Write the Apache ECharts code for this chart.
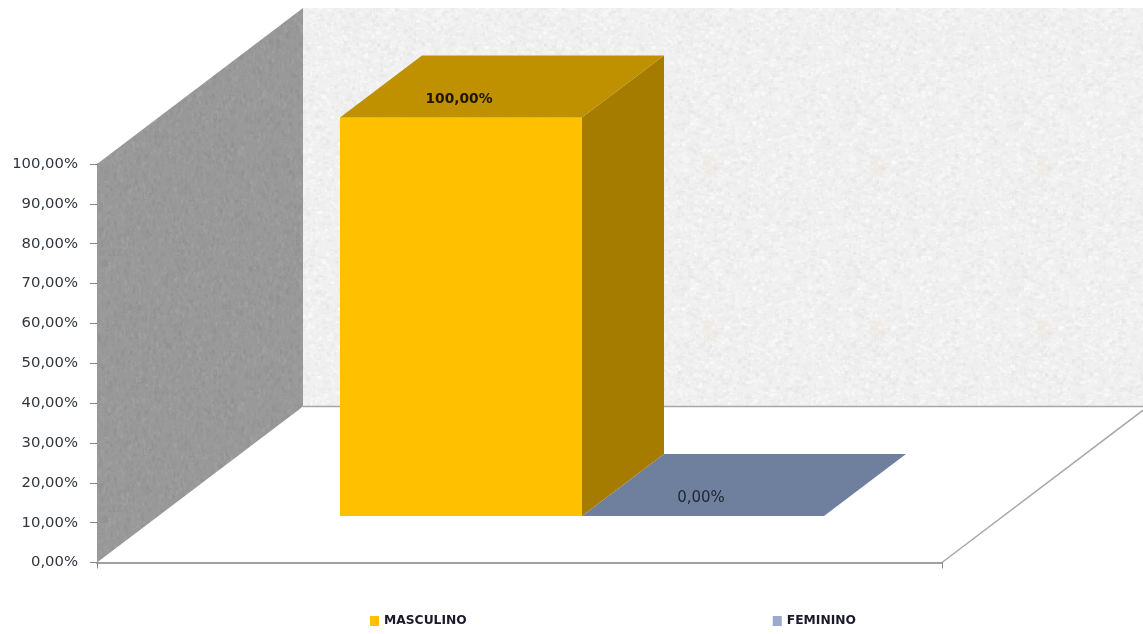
<!DOCTYPE html>
<html><head><meta charset="utf-8">
<style>html,body{margin:0;padding:0;background:#fff}#c{width:1143px;height:634px}</style>
<script src="https://cdn.jsdelivr.net/npm/echarts@6/dist/echarts.min.js"></script>
</head><body><div id="c"></div>
<script>
const categories = ['Sexo'];
const seriesNames = ['MASCULINO', 'FEMININO'];
const masculino = [100];
const feminino = [0];
const FONT = '"DejaVu Sans", sans-serif';

// purely decorative wall textures (deterministic)
function texture(w, h, base, amp, sx, sy, count, mark) {
  const cv = document.createElement('canvas');
  cv.width = w; cv.height = h;
  const g = cv.getContext('2d');
  g.fillStyle = `rgb(${base},${base},${base})`;
  g.fillRect(0, 0, w, h);
  let s = 12345;
  const r = () => (s = (s * 16807) % 2147483647) / 2147483647;
  for (let i = 0; i < count; i++) {
    const v = Math.round(base + (r() - 0.5) * amp);
    g.fillStyle = `rgba(${v},${v},${v},0.6)`;
    g.fillRect(r() * w, r() * h, 1 + r() * sx, 1 + r() * sy);
  }
  if (mark) {
    g.fillStyle = 'rgba(240,225,205,0.22)';
    for (const y of [0, h]) {
      g.beginPath();
      g.ellipse(mark, y, 8, 10, 0, 0, Math.PI * 2);
      g.fill();
    }
  }
  return cv;
}
const backTexture = texture(167, 165, 240, 24, 4, 3, 3800, 42);
const sideTexture = texture(256, 256, 153, 22, 2, 5, 9000, 0);

const DEPTH_X = 206, DEPTH_Y = 156;      // full depth of the 3D box
const BAR_SHIFT_X = 62.5, BAR_SHIFT_Y = 46.5; // bars sit part-way back
const BAR_DEPTH_X = 82, BAR_DEPTH_Y = 62;
const BAR_W_RATIO = 242 / 845;
const faces = [
  {front: '#FFC000', top: '#BF9000', side: '#A67C00', label: [-2, 13], weight: 'bold', size: 13.8, text: '#1f1700'},
  {front: '#9AABCD', top: '#6F7F9E', side: '#5F6E8A', label: [-2, 13], weight: 'normal', size: 15, text: '#1f2530'}
];

function wallItem(params, api) {
  const o = api.coord([0, 0]), t = api.coord([0, 100]);
  const size = api.size([1, 0]);
  const x0 = o[0] - size[0] / 2, x1 = o[0] + size[0] / 2, y0 = o[1], y1 = t[1];
  const D = DEPTH_X, E = DEPTH_Y;
  return {type: 'group', silent: true, children: [
    {type: 'polygon', shape: {points: [[x0 + D, y1 - E], [x1 + D, y1 - E], [x1 + D, y0 - E], [x0 + D, y0 - E]]},
      style: {fill: {image: backTexture, repeat: 'repeat'}}},
    {type: 'polygon', shape: {points: [[x0, y0], [x0 + D, y0 - E], [x1 + D, y0 - E], [x1, y0]]},
      style: {fill: '#ffffff'}},
    {type: 'polygon', shape: {points: [[x0, y1], [x0 + D, y1 - E], [x0 + D, y0 - E], [x0, y0]]},
      style: {fill: {image: sideTexture, repeat: 'repeat'}}},
    {type: 'line', shape: {x1: x0 + D, y1: y0 - E, x2: x1 + D, y2: y0 - E}, style: {stroke: '#a6a6a6', lineWidth: 1.5}},
    {type: 'line', shape: {x1: x1, y1: y0, x2: x1 + D, y2: y0 - E}, style: {stroke: '#a6a6a6', lineWidth: 1.5}}
  ]};
}

function barRenderer(idx) {
  return function (params, api) {
    const v = api.value(1);
    const base = api.coord([0, 0]), top = api.coord([0, v]);
    const w = api.size([1, 0])[0] * BAR_W_RATIO;
    const cx = base[0] + BAR_SHIFT_X;
    const xl = cx + (idx - 1) * w, xr = xl + w;
    const yb = base[1] - BAR_SHIFT_Y, yt = top[1] - BAR_SHIFT_Y;
    const dx = BAR_DEPTH_X, dy = BAR_DEPTH_Y, f = faces[idx];
    const tx = xl + w / 2 + f.label[0], ty = yt - dy / 2 + f.label[1];
    return {type: 'group', children: [
      {type: 'polygon', shape: {points: [[xl, yt], [xr, yt], [xr, yb], [xl, yb]]}, style: {fill: f.front}},
      {type: 'polygon', shape: {points: [[xr, yt], [xr + dx, yt - dy], [xr + dx, yb - dy], [xr, yb]]}, style: {fill: f.side}},
      {type: 'polygon', shape: {points: [[xl, yt], [xl + dx, yt - dy], [xr + dx, yt - dy], [xr, yt]]}, style: {fill: f.top}},
      {type: 'text', style: {x: tx, y: ty, text: fmt(v), fill: f.text, align: 'center', verticalAlign: 'middle',
        font: `${f.weight} ${f.size}px ${FONT}`}, z2: 10}
    ]};
  };
}
function fmt(v) { return v.toFixed(2).replace('.', ',') + '%'; }

const chart = echarts.init(document.getElementById('c'));
chart.setOption({
  animation: false,
  backgroundColor: '#ffffff',
  grid: {left: 97, top: 164, width: 845, height: 398.5},
  legend: {
    data: seriesNames, left: 365, top: 610, itemWidth: 9, itemHeight: 10, itemGap: 306, icon: 'rect',
    selectedMode: false,
    textStyle: {fontFamily: FONT, fontSize: 12.3, fontWeight: 'bold', color: '#1a1a2a'}
  },
  xAxis: {
    type: 'category', data: categories, z: 5,
    axisLine: {lineStyle: {color: '#a0a0a0', width: 2}},
    axisTick: {show: true, length: 6, lineStyle: {color: '#868686'}},
    axisLabel: {show: false}
  },
  yAxis: {
    type: 'value', min: 0, max: 100, interval: 10, z: 5,
    splitLine: {show: false},
    axisLine: {show: true, lineStyle: {color: '#969696', width: 1}},
    axisTick: {show: true, length: 7, lineStyle: {color: '#868686'}},
    axisLabel: {formatter: fmt, margin: 19, padding: [2, 0, 0, 0], fontFamily: FONT, fontSize: 14.8, color: '#30363f'}
  },
  series: [
    {type: 'custom', name: 'walls', z: 1, silent: true, renderItem: wallItem, data: [[0, 100]], encode: {x: 0, y: 1}},
    {type: 'custom', name: seriesNames[0], z: 3, renderItem: barRenderer(0), itemStyle: {color: faces[0].front},
      data: masculino.map((v, i) => [i, v]), encode: {x: 0, y: 1}},
    {type: 'custom', name: seriesNames[1], z: 2, renderItem: barRenderer(1), itemStyle: {color: faces[1].front},
      data: feminino.map((v, i) => [i, v]), encode: {x: 0, y: 1}}
  ]
});
</script></body></html>
